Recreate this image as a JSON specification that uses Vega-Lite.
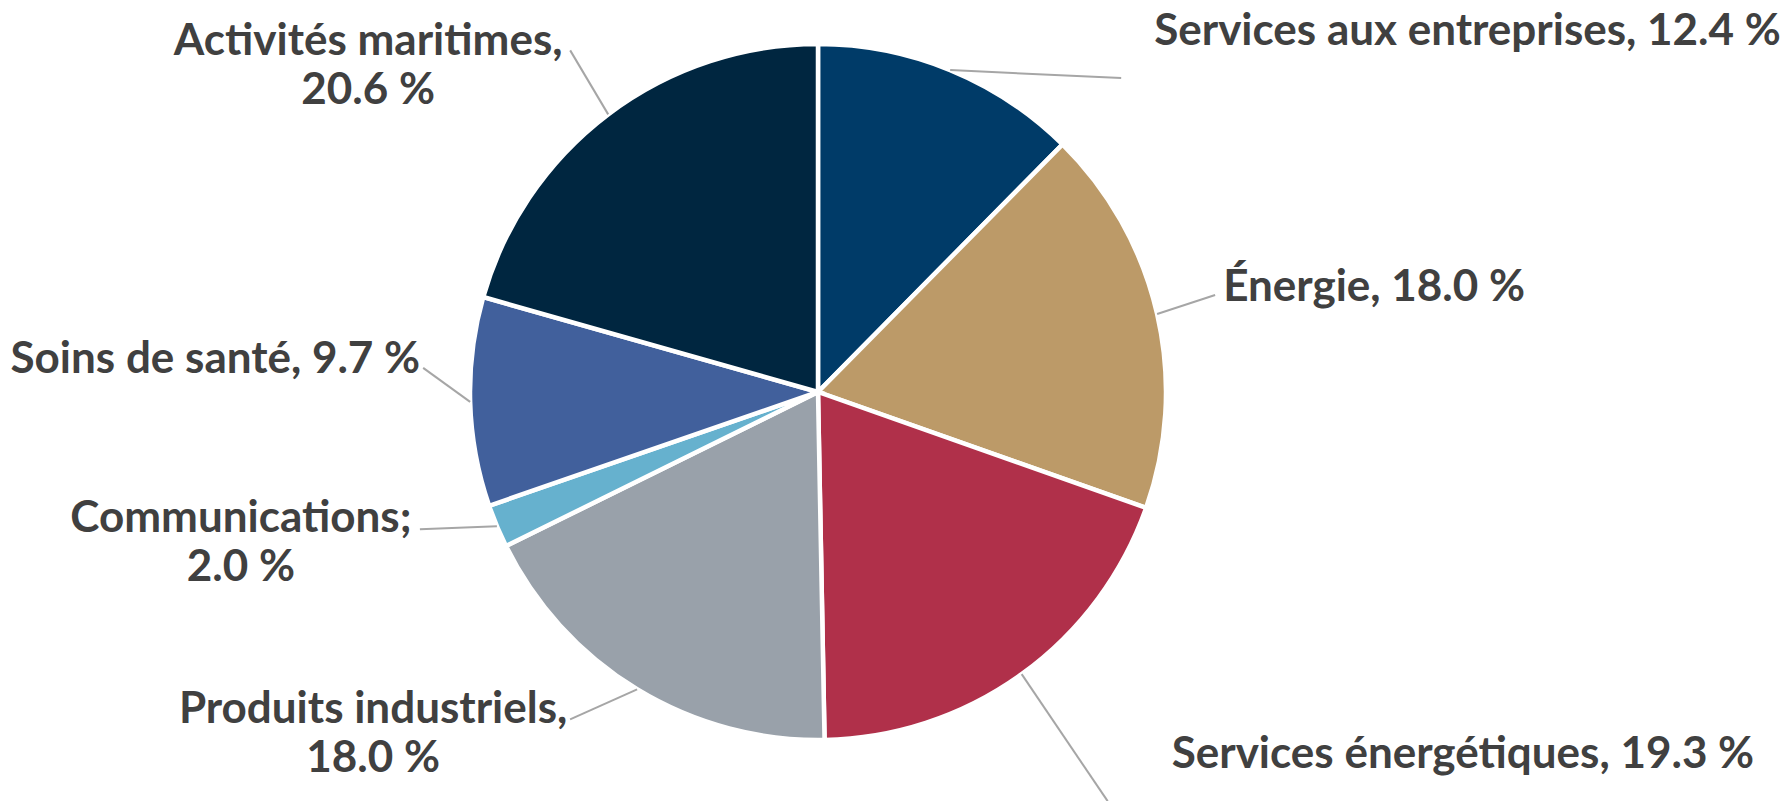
{
  "$schema": "https://vega.github.io/schema/vega-lite/v6.json",
  "width": 1636,
  "height": 784,
  "autosize": {"type": "none"},
  "padding": {"left": 0, "top": 0, "right": 156, "bottom": 17},
  "background": "white",
  "config": {"view": {"stroke": null}},
  "data": {
    "values": [
      {"category": "Services aux entreprises", "value": 12.4, "order": 1, "label": ["Services aux entreprises, 12.4 %"]},
      {"category": "Énergie", "value": 18.0, "order": 2, "label": ["Énergie, 18.0 %"]},
      {"category": "Services énergétiques", "value": 19.3, "order": 3, "label": ["Services énergétiques, 19.3 %"]},
      {"category": "Produits industriels", "value": 18.0, "order": 4, "label": ["Produits industriels,", "18.0 %"]},
      {"category": "Communications", "value": 2.0, "order": 5, "label": ["Communications;", "2.0 %"]},
      {"category": "Soins de santé", "value": 9.7, "order": 6, "label": ["Soins de santé, 9.7 %"]},
      {"category": "Activités maritimes", "value": 20.6, "order": 7, "label": ["Activités maritimes,", "20.6 %"]}
    ]
  },
  "transform": [
    {"window": [{"op": "sum", "field": "value", "as": "cum"}], "sort": [{"field": "order"}], "frame": [null, 0]},
    {"calculate": "datum.cum - datum.value / 2", "as": "mid"},
    {"calculate": "datum.mid / 100 * 2 * PI", "as": "ang"},
    {"calculate": "348 * sin(datum.ang)", "as": "ex"},
    {"calculate": "348 * cos(datum.ang)", "as": "ey"},
    {"calculate": "datum.ex + [171, 58, 86, -67, -77, -47, -38][datum.order - 1]", "as": "lx"},
    {"calculate": "datum.ey - [8, -19, 127, 30, 3, -34, -64][datum.order - 1]", "as": "ly"}
  ],
  "layer": [
    {
      "mark": {"type": "arc", "outerRadius": 348, "stroke": "white", "strokeWidth": 4.5},
      "encoding": {
        "theta": {"field": "value", "type": "quantitative", "stack": true, "scale": {"domain": [0, 100]}},
        "order": {"field": "order", "type": "quantitative"},
        "color": {
          "field": "category",
          "type": "nominal",
          "scale": {
            "domain": ["Services aux entreprises", "Énergie", "Services énergétiques", "Produits industriels", "Communications", "Soins de santé", "Activités maritimes"],
            "range": ["#003B68", "#BC9A68", "#B0304A", "#99A1AA", "#66B1CE", "#41609C", "#002640"]
          },
          "legend": null
        }
      }
    },
    {
      "mark": {"type": "rule", "stroke": "#A6A6A6", "strokeWidth": 2},
      "encoding": {
        "x": {"field": "ex", "type": "quantitative", "scale": {"domain": [-818, 818], "nice": false, "zero": false}, "axis": null},
        "y": {"field": "ey", "type": "quantitative", "scale": {"domain": [-392, 392], "nice": false, "zero": false}, "axis": null},
        "x2": {"field": "lx"},
        "y2": {"field": "ly"}
      }
    },
    {
      "mark": {
        "type": "text",
        "radius": 348,
        "font": "Lato",
        "fontWeight": "bold",
        "fontSize": 44,
        "color": "#404040",
        "lineHeight": 49,
        "baseline": "alphabetic",
        "align": {"expr": "['left','left','left','center','center','right','center'][datum.order - 1]"},
        "dx": {"expr": "[204, 66, 150, -264, -256, -50, -240][datum.order - 1]"},
        "dy": {"expr": "[-25, -13, 94, 34, 6, -29, -59][datum.order - 1]"}
      },
      "encoding": {
        "theta": {"field": "mid", "type": "quantitative", "stack": null},
        "text": {"field": "label"}
      }
    }
  ]
}
